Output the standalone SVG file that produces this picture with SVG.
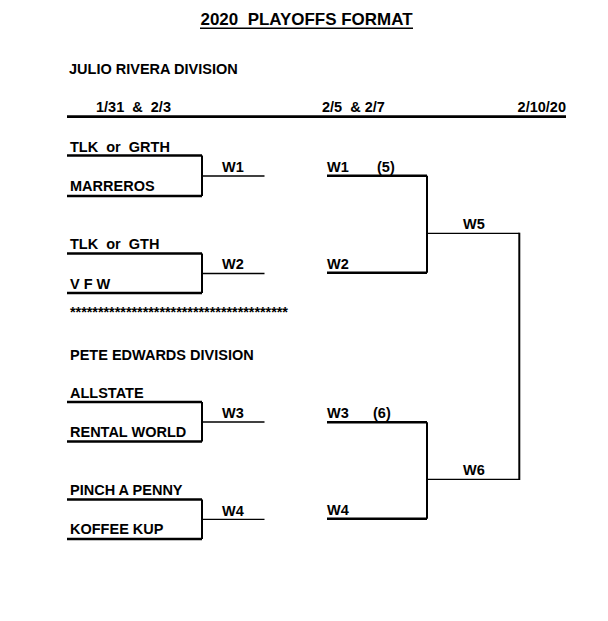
<svg xmlns="http://www.w3.org/2000/svg" width="608" height="621" viewBox="0 0 608 621">
<style>
text{font-family:"Liberation Sans",Arial,sans-serif;font-weight:bold;font-size:14.5px;fill:#000}
.title{font-size:17px}
.thick{stroke:#000;stroke-width:2.5;fill:none}
.vert{stroke:#000;stroke-width:2;fill:none}
.thin{stroke:#000;stroke-width:1.3;fill:none}
</style>
<rect width="608" height="621" fill="#fff"/>
<g id="header">
<text class="title" x="306.5" y="25" text-anchor="middle" xml:space="preserve" textLength="212" lengthAdjust="spacingAndGlyphs">2020  PLAYOFFS FORMAT</text>
<line x1="200" y1="28.3" x2="413" y2="28.3" stroke="#000" stroke-width="1.5"/>
<text x="69" y="74">JULIO RIVERA DIVISION</text>
<text x="96" y="112" xml:space="preserve">1/31  &amp;  2/3</text>
<text x="322" y="112" xml:space="preserve">2/5  &amp; 2/7</text>
<text x="566" y="112" text-anchor="end">2/10/20</text>
<line x1="67" y1="116.7" x2="566" y2="116.7" stroke="#000" stroke-width="2.7"/>
</g>
<g id="team-labels">
<text x="70" y="152" xml:space="preserve">TLK  or  GRTH</text>
<text x="70" y="191">MARREROS</text>
<text x="70" y="249" xml:space="preserve">TLK  or  GTH</text>
<text x="70" y="289">V F W</text>
<text x="70" y="317" textLength="218" lengthAdjust="spacing">***************************************</text>
<text x="70" y="360">PETE EDWARDS DIVISION</text>
<text x="70" y="397.5">ALLSTATE</text>
<text x="70" y="437">RENTAL WORLD</text>
<text x="70" y="495">PINCH A PENNY</text>
<text x="70" y="534">KOFFEE KUP</text>
</g>
<g id="round1-labels">
<text x="222" y="171.5">W1</text>
<text x="222" y="269">W2</text>
<text x="222" y="418">W3</text>
<text x="222" y="515.5">W4</text>
</g>
<g id="round2-labels">
<text x="327" y="172">W1</text>
<text x="377" y="172">(5)</text>
<text x="327" y="268.5">W2</text>
<text x="327" y="418">W3</text>
<text x="373" y="418">(6)</text>
<text x="327" y="515">W4</text>
</g>
<g id="round3-labels">
<text x="463" y="228.5">W5</text>
<text x="463" y="475">W6</text>
</g>
<g id="connectors">
<line class="thick" x1="67" y1="155.5" x2="202" y2="155.5"/>
<line class="thick" x1="67" y1="196" x2="202" y2="196"/>
<line class="vert" x1="202" y1="155.5" x2="202" y2="196"/>
<line class="thin" x1="202" y1="176" x2="264.5" y2="176"/>

<line class="thick" x1="67" y1="253.5" x2="202" y2="253.5"/>
<line class="thick" x1="67" y1="293" x2="202" y2="293"/>
<line class="vert" x1="202" y1="253.5" x2="202" y2="293"/>
<line class="thin" x1="202" y1="273.5" x2="264.5" y2="273.5"/>

<line class="thick" x1="67" y1="402" x2="202" y2="402"/>
<line class="thick" x1="67" y1="441.5" x2="202" y2="441.5"/>
<line class="vert" x1="202" y1="402" x2="202" y2="441.5"/>
<line class="thin" x1="202" y1="422" x2="264.5" y2="422"/>

<line class="thick" x1="67" y1="499.5" x2="202" y2="499.5"/>
<line class="thick" x1="67" y1="539" x2="202" y2="539"/>
<line class="vert" x1="202" y1="499.5" x2="202" y2="539"/>
<line class="thin" x1="202" y1="519.3" x2="264.5" y2="519.3"/>

<line class="thick" x1="327" y1="175.7" x2="427" y2="175.7"/>
<line class="thick" x1="327" y1="272.7" x2="427" y2="272.7"/>
<line class="vert" x1="427" y1="175.7" x2="427" y2="272.7"/>
<line class="thin" x1="427" y1="233.3" x2="519.3" y2="233.3"/>

<line class="thick" x1="327" y1="422.3" x2="427" y2="422.3"/>
<line class="thick" x1="327" y1="518.7" x2="427" y2="518.7"/>
<line class="vert" x1="427" y1="422.3" x2="427" y2="518.7"/>
<line class="thin" x1="427" y1="479.3" x2="519.3" y2="479.3"/>

<line class="vert" x1="519.3" y1="232.7" x2="519.3" y2="480"/>
</g>
</svg>
